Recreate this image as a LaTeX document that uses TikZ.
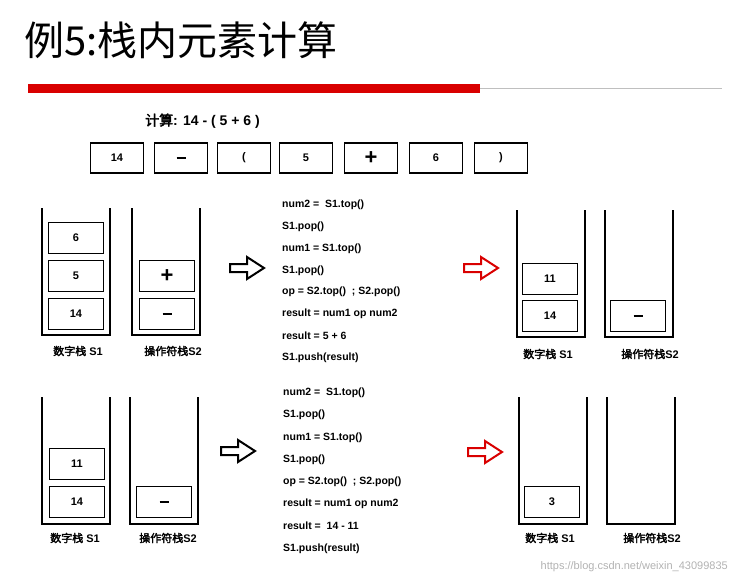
\documentclass[tikz,border=0pt]{standalone}
\usepackage{fontspec}
\setmainfont{Liberation Sans}
\newfontfamily\cjk{Noto Sans CJK SC}[AutoFakeBold=2.5]
\usetikzlibrary{positioning}

\tikzset{
  tok/.style={draw, line width=1.6pt, minimum width=53pt, minimum height=30pt, inner sep=0pt, font=\bfseries\fontsize{11}{11}\selectfont},
  elem/.style={draw, line width=1.6pt, minimum width=55pt, minimum height=31pt, inner sep=0pt, font=\bfseries\fontsize{11}{11}\selectfont},
  code/.style={anchor=west, inner sep=0pt, font=\bfseries\fontsize{10.5}{10.5}\selectfont},
  lbl/.style={inner sep=0pt, font=\bfseries\fontsize{11}{11}\selectfont},
  pics/hollowarrow/.style={code={
    \draw[line width=2pt, #1] (-17,-4) -- (0,-4) -- (0,-11) -- (17,0) -- (0,11) -- (0,4) -- (-17,4) -- cycle;}},
}
\newcommand{\stackbox}[2]{%
  \draw[line width=2.2pt] (#1,#2) -- (#1,#2+127) -- (#1+68,#2+127) -- (#1+68,#2);}
\newcommand{\zh}[1]{{\cjk\bfseries #1}}
\newcommand{\bigminus}{\rule{9pt}{2.8pt}}
\newcommand{\bigplus}{{\fontsize{22}{22}\selectfont +}}

\begin{document}
\begin{tikzpicture}[x=1pt,y=-1pt,line cap=butt,line join=miter]
  \useasboundingbox (0,0) rectangle (735,586);
  \node[anchor=west, inner sep=0pt, font=\cjk\fontsize{40}{40}\selectfont] (title) at (24,40) {例5:栈内元素计算};
  \draw[gray!50, line width=0.8pt] (28,88) -- (722,88);
  \fill[red!85!black] (28,84) rectangle (480,93);
  \node[anchor=west, inner sep=0pt, font=\bfseries\fontsize{14}{14}\selectfont] (expr) at (145,121) {\zh{计算}: 14 - ( 5 + 6 )};

  % tokens
  \node[tok] (t1) at (117,158) {14};
  \node[tok] (t2) at (181,158) {\bigminus};
  \node[tok] (t3) at (244,158) {(};
  \node[tok] (t4) at (306,158) {5};
  \node[tok] (t5) at (371,158) {\bigplus};
  \node[tok] (t6) at (436,158) {6};
  \node[tok] (t7) at (501,158) {)};

  % first step
  \stackbox{42}{208}
  \stackbox{132}{208}
  \node[elem] (a6) at (76,238) {6};
  \node[elem] (a5) at (76,276) {5};
  \node[elem] (a14) at (76,314) {14};
  \node[elem] (aplus) at (167,276) {\bigplus};
  \node[elem] (aminus) at (167,314) {\bigminus};
  \node[lbl] (as1) at (78,351) {\zh{数字栈} S1};
  \node[lbl] (as2) at (173,351) {\zh{操作符栈}S2};
  \pic at (247,268) {hollowarrow=black};
  \foreach \t [count=\i from 0] in {num2 =\ \ S1.top(), S1.pop(), num1 = S1.top(), S1.pop(),
      op = S2.top()\ \ ; S2.pop(), result = num1 op num2, result = 5 + 6, S1.push(result)}
    \node[code] (ca\i) at (282,205+\i*21.8) {\t};
  \pic at (481,268) {hollowarrow={red!85!black}};
  \stackbox{517}{210}
  \stackbox{605}{210}
  \node[elem] (b11) at (550,279) {11};
  \node[elem] (b14) at (550,316) {14};
  \node[elem] (bminus) at (638,316) {\bigminus};
  \node[lbl] (bs1) at (548,354) {\zh{数字栈} S1};
  \node[lbl] (bs2) at (650,354) {\zh{操作符栈}S2};

  % second step
  \stackbox{42}{397}
  \stackbox{130}{397}
  \node[elem] (c11) at (77,464) {11};
  \node[elem] (c14) at (77,502) {14};
  \node[elem] (cminus) at (164,502) {\bigminus};
  \node[lbl] (cs1) at (75,538) {\zh{数字栈} S1};
  \node[lbl] (cs2) at (168,538) {\zh{操作符栈}S2};
  \pic at (238,451) {hollowarrow=black};
  \foreach \t [count=\i from 0] in {num2 =\ \ S1.top(), S1.pop(), num1 = S1.top(), S1.pop(),
      op = S2.top()\ \ ; S2.pop(), result = num1 op num2, result =\ \ 14 - 11, S1.push(result)}
    \node[code] (cc\i) at (283,393+\i*22.2) {\t};
  \pic at (485,452) {hollowarrow={red!85!black}};
  \stackbox{519}{397}
  \stackbox{607}{397}
  \node[elem] (d3) at (552,502) {3};
  \node[lbl] (ds1) at (550,538) {\zh{数字栈} S1};
  \node[lbl] (ds2) at (652,538) {\zh{操作符栈}S2};

  \node[anchor=east, inner sep=0pt, text=gray!60, font=\fontsize{11}{11}\selectfont] (wm) at (728,567) {https://blog.csdn.net/weixin\_43099835};
\end{tikzpicture}
\end{document}
